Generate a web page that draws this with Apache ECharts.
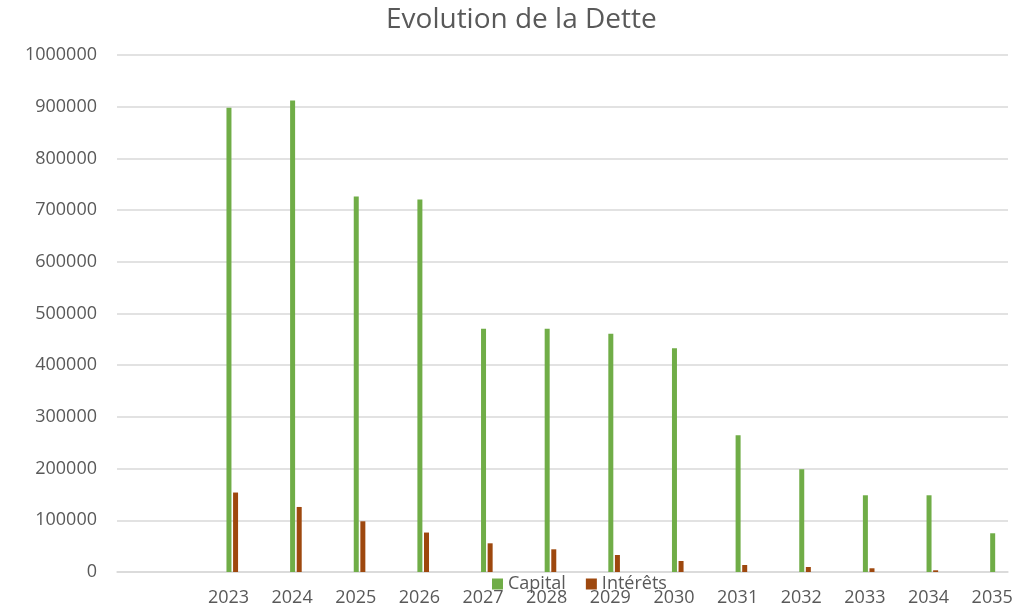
<!DOCTYPE html>
<html>
<head>
<meta charset="utf-8">
<title>Evolution de la Dette</title>
<script src="https://cdn.jsdelivr.net/npm/echarts@6/dist/echarts.min.js"></script>
<style>
  html, body { margin: 0; padding: 0; background: #fff; }
  #chart { width: 1022px; height: 607px; }
</style>
</head>
<body>
<div id="chart"></div>
<script>
// first category is empty in the original sheet
var annees = ['', '2023', '2024', '2025', '2026', '2027', '2028', '2029', '2030', '2031', '2032', '2033', '2034', '2035']
var capital = [null, 898000, 912000, 726500, 720700, 470300, 470300, 460600, 433000, 264600, 198800, 148400, 148400, 74900]
var interets = [null, 153700, 125800, 98100, 76300, 55500, 43900, 32900, 21300, 13500, 9700, 7200, 3300, 0]
var yTicks = [0, 100000, 200000, 300000, 400000, 500000, 600000, 700000, 800000, 900000, 1000000]

var police = "'Open Sans', 'Noto Sans', sans-serif"
var gris = '#595959'

// the excel chart has empty series in front, which push the two visible bars to the right of each category
var vides = []
for (var i = 0; i < 6; i++) {
  vides.push({ name: 'vide' + i, type: 'bar', data: [], barWidth: 5, barGap: '32%' })
}

var option = {
  animation: false,
  textStyle: { fontFamily: police },
  title: {
    text: 'Evolution de la Dette',
    left: 381,
    top: 1,
    textStyle: { fontFamily: police, fontSize: 28, fontWeight: 'normal', color: gris },
  },
  legend: {
    data: ['Capital', 'Intérêts'],
    left: 487,
    top: 570,
    itemWidth: 11,
    itemHeight: 11,
    itemGap: 20,
    icon: 'rect',
    textStyle: { fontFamily: police, fontSize: 18, color: gris },
  },
  grid: { left: 117, right: 14, top: 55, bottom: 35 },
  xAxis: {
    type: 'category',
    data: annees,
    axisLine: { lineStyle: { color: '#d9d9d9', width: 1.5 } },
    axisTick: { show: false },
    axisLabel: { fontFamily: police, fontSize: 18, color: gris, margin: 17, padding: [0, 0, 0, 32], interval: 0 },
  },
  yAxis: {
    type: 'value',
    min: yTicks[0],
    max: yTicks[yTicks.length - 1],
    interval: yTicks[1] - yTicks[0],
    axisLine: { show: false },
    axisTick: { show: false },
    axisLabel: {
      fontFamily: police,
      fontSize: 18,
      color: gris,
      margin: 20,
      formatter: function (v) {
        return String(v)
      },
    },
    splitLine: { lineStyle: { color: '#d9d9d9', width: 1.5 } },
  },
  series: vides.concat([
    { name: 'Capital', type: 'bar', data: capital, barWidth: 5, barGap: '32%', itemStyle: { color: '#70ad47' } },
    { name: 'Intérêts', type: 'bar', data: interets, barWidth: 5, barGap: '32%', itemStyle: { color: '#9e480e' } },
  ]),
}

var chart = echarts.init(document.getElementById('chart'))
chart.setOption(option)
window.addEventListener('resize', function () {
  chart.resize()
})
</script>
</body>
</html>
